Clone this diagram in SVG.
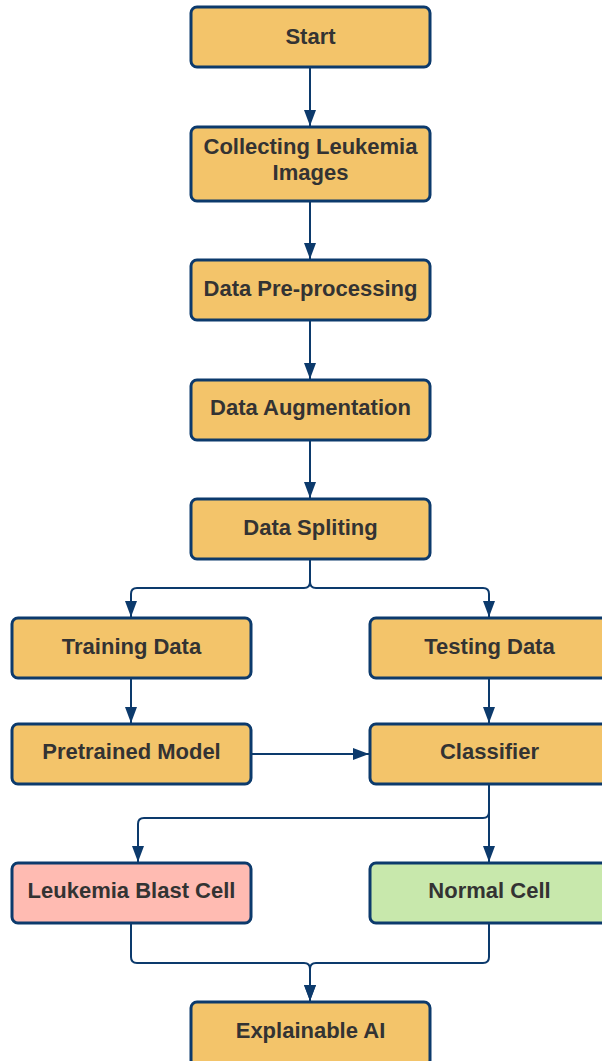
<svg xmlns="http://www.w3.org/2000/svg" width="602" height="1061" viewBox="0 0 602 1061">
<style>
.box{fill:#f3c46a;stroke:#0c3a6c;stroke-width:3}
.pink{fill:#ffbbb2}
.green{fill:#c8e8ac}
.lbl{font-family:"Liberation Sans",Arial,sans-serif;font-weight:bold;font-size:22px;fill:#333333;text-anchor:middle}
.con{fill:none;stroke:#0c3a6c;stroke-width:2}
</style>
<defs>
<marker id="arr" markerUnits="userSpaceOnUse" markerWidth="16" markerHeight="16" viewBox="0 0 16 16" refX="16" refY="8" orient="auto">
<path d="M0,2 L16,8 L0,14 Z" fill="#0c3a6c"/>
</marker>
</defs>
<rect width="602" height="1061" fill="#ffffff"/>
<g id="connectors">
<path class="con" d="M310,68 V126" marker-end="url(#arr)"/>
<path class="con" d="M310,202 V259" marker-end="url(#arr)"/>
<path class="con" d="M310,321 V379" marker-end="url(#arr)"/>
<path class="con" d="M310,441 V498" marker-end="url(#arr)"/>
<path class="con" d="M310,560 V582 Q310,588 304,588 H137 Q131,588 131,594 V617" marker-end="url(#arr)"/>
<path class="con" d="M310,560 V582 Q310,588 316,588 H483 Q489,588 489,594 V617" marker-end="url(#arr)"/>
<path class="con" d="M131,679 V723" marker-end="url(#arr)"/>
<path class="con" d="M489,679 V723" marker-end="url(#arr)"/>
<path class="con" d="M252,754 H369" marker-end="url(#arr)"/>
<path class="con" d="M489,785 V862" marker-end="url(#arr)"/>
<path class="con" d="M489,785 V812 Q489,818 483,818 H144 Q138,818 138,824 V862" marker-end="url(#arr)"/>
<path class="con" d="M131,924 V957 Q131,963 137,963 H304 Q310,963 310,969 V1001" marker-end="url(#arr)"/>
<path class="con" d="M489,924 V957 Q489,963 483,963 H316 Q310,963 310,969 V1001" marker-end="url(#arr)"/>
</g>
<g id="start"><rect class="box" x="191" y="7" width="239" height="60" rx="6"/><text class="lbl" x="310.5" y="44">Start</text></g>
<g id="collecting"><rect class="box" x="191" y="127" width="239" height="74" rx="6"/><text class="lbl" x="310.5" y="154">Collecting Leukemia</text><text class="lbl" x="310.5" y="180">Images</text></g>
<g id="preprocessing"><rect class="box" x="191" y="260" width="239" height="60" rx="6"/><text class="lbl" x="310.5" y="296">Data Pre-processing</text></g>
<g id="augmentation"><rect class="box" x="191" y="380" width="239" height="60" rx="6"/><text class="lbl" x="310.5" y="415">Data Augmentation</text></g>
<g id="splitting"><rect class="box" x="191" y="499" width="239" height="60" rx="6"/><text class="lbl" x="310.5" y="535">Data Spliting</text></g>
<g id="training"><rect class="box" x="12" y="618" width="239" height="60" rx="6"/><text class="lbl" x="131.5" y="654">Training Data</text></g>
<g id="testing"><rect class="box" x="370" y="618" width="239" height="60" rx="6"/><text class="lbl" x="489.5" y="654">Testing Data</text></g>
<g id="pretrained"><rect class="box" x="12" y="724" width="239" height="60" rx="6"/><text class="lbl" x="131.5" y="759">Pretrained Model</text></g>
<g id="classifier"><rect class="box" x="370" y="724" width="239" height="60" rx="6"/><text class="lbl" x="489.5" y="759">Classifier</text></g>
<g id="blast"><rect class="box pink" x="12" y="863" width="239" height="60" rx="6"/><text class="lbl" x="131.5" y="898">Leukemia Blast Cell</text></g>
<g id="normal"><rect class="box green" x="370" y="863" width="239" height="60" rx="6"/><text class="lbl" x="489.5" y="898">Normal Cell</text></g>
<g id="xai"><rect class="box" x="191" y="1002" width="239" height="64" rx="6"/><text class="lbl" x="310.5" y="1038">Explainable AI</text></g>
</svg>
